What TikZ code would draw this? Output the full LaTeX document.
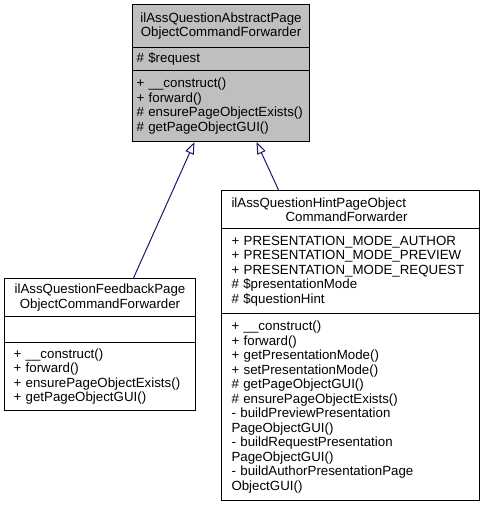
\documentclass[tikz,border=0pt]{standalone}
\usepackage{fontspec}
\setmainfont{Liberation Sans}
\usetikzlibrary{arrows.meta}
\definecolor{edgeblue}{HTML}{191970}
\definecolor{hdrgray}{HTML}{BFBFBF}
\begin{document}
\begin{tikzpicture}[x=1bp,y=-1bp,
  txt/.style={font=\fontsize{13.3bp}{14.5bp}\selectfont},
  comp/.style={draw=black, line width=1bp, anchor=north west, inner ysep=0pt, txt, align=left},
  topbox/.style={comp, fill=hdrgray, inner xsep=4bp, text width=169bp},
  leftbox/.style={comp, fill=white, inner xsep=9bp, text width=173bp},
  rightbox/.style={comp, fill=white, inner xsep=10bp, text width=238bp},
  inherit/.style={draw=edgeblue, line width=1bp, -{Triangle[open,length=12bp,width=9bp]}}]
\useasboundingbox (0,0) rectangle (485,507);
% base class
\node[topbox, align=center, minimum height=43bp] (ttitle) at (132,4) {ilAssQuestionAbstractPage\\ObjectCommandForwarder};
\node[topbox, minimum height=23bp] (tattr) at (132,47) {\# \$request};
\node[topbox, minimum height=71bp] (tmeth) at (132,70) {+ \_\_construct()\\+ forward()\\\# ensurePageObjectExists()\\\# getPageObjectGUI()};
% feedback class
\node[leftbox, align=center, minimum height=38bp] (ltitle) at (4,278) {ilAssQuestionFeedbackPage\\ObjectCommandForwarder};
\node[leftbox, minimum height=26bp] (lattr) at (4,316) {};
\node[leftbox, minimum height=68bp] (lmeth) at (4,342) {+ \_\_construct()\\+ forward()\\+ ensurePageObjectExists()\\+ getPageObjectGUI()};
% hint class
\node[rightbox, minimum height=38bp] (rtitle) at (221,190) {ilAssQuestionHintPageObject\\\makebox[230bp]{CommandForwarder}};
\node[rightbox, minimum height=85bp] (rattr) at (221,228) {+ PRESENTATION\_MODE\_AUTHOR\\+ PRESENTATION\_MODE\_PREVIEW\\+ PRESENTATION\_MODE\_REQUEST\\\# \$presentationMode\\\# \$questionHint};
\node[rightbox, minimum height=187bp] (rmeth) at (221,313) {+ \_\_construct()\\+ forward()\\+ getPresentationMode()\\+ setPresentationMode()\\\# getPageObjectGUI()\\\# ensurePageObjectExists()\\- buildPreviewPresentation\\PageObjectGUI()\\- buildRequestPresentation\\PageObjectGUI()\\- buildAuthorPresentationPage\\ObjectGUI()};
% inheritance
\draw[inherit] ([xshift=33.5bp]ltitle.north) -- ([xshift=-26.5bp]tmeth.south);
\draw[inherit] ([xshift=-72bp]rtitle.north) -- ([xshift=35.5bp]tmeth.south);
\end{tikzpicture}
\end{document}
